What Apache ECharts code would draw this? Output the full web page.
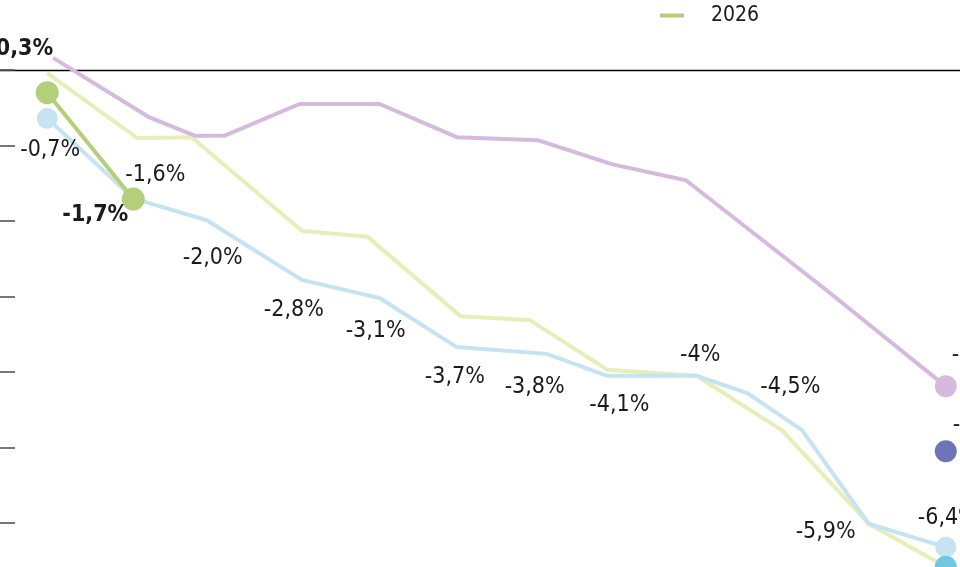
<!DOCTYPE html>
<html>
<head>
<meta charset="utf-8">
<script src="https://cdn.jsdelivr.net/npm/echarts@6/dist/echarts.min.js"></script>
<style>
html,body{margin:0;padding:0;background:#fff;}
#chart{width:960px;height:567px;}
</style>
</head>
<body>
<div id="chart"></div>
<script>
// ---- data ----
const purpleX = [0.08, 1.35, 1.97, 2.37, 3.37, 4.44, 5.47, 6.55, 7.55, 8.53, 10.4, 12];
const purpleY = [0.16, -0.62, -0.87, -0.87, -0.45, -0.45, -0.89, -0.93, -1.25, -1.46, -2.91, -4.19];
const purpleLabels = ['', '', '', '', '', '', '', '', '', '', '', '-4,2%'];

const blueX = [0, 1.15, 2.13, 3.4, 4.44, 5.47, 6.67, 7.48, 8.68, 9.35, 10.08, 10.97, 12];
const blueY = [-0.64, -1.70, -1.99, -2.78, -3.02, -3.67, -3.76, -4.05, -4.05, -4.28, -4.77, -6.01, -6.32];
const blueLabels = ['-0,7%', '-1,6%', '-2,0%', '-2,8%', '-3,1%', '-3,7%', '-3,8%', '-4,1%', '-4%', '-4,5%', '', '-5,9%', '-6,4%'];

const paleX = [0, 1.2, 1.93, 3.4, 4.28, 5.52, 6.44, 7.48, 8.67, 9.81, 10.97, 12];
const paleY = [-0.04, -0.90, -0.89, -2.13, -2.21, -3.26, -3.31, -3.97, -4.05, -4.77, -6.01, -6.58];

const green2026X = [0, 1.15];
const green2026Y = [-0.30, -1.71];
const green2026Labels = ['-0,3%', '-1,7%'];

const darkBlueDot = [12, -5.05];
const darkBlueLabel = '-5,1%';
const cyanDot = [12, -6.58];

const yTicks = [-6, -5, -4, -3, -2, -1, 0];

// ---- layout / style ----
const FONT = '"DejaVu Sans Condensed", "Liberation Sans Narrow", sans-serif';
const blueOffsets = [[3,32],[22,-23],[6,38],[-8,30],[-4,33],[-2,30],[-12,33],[12,29],[3,-21],[43,-6],[0,0],[-43,8],[2,-29]];
const greenOffsets = [[-27,-44],[-38,16]];

function lbl(text, off, bold) {
  return {
    show: text !== '',
    position: 'inside',
    offset: off,
    formatter: text,
    color: '#1a1a1a',
    fontFamily: FONT,
    fontSize: 23,
    fontWeight: bold ? 'bold' : 'normal'
  };
}

const purpleData = purpleX.map((x, i) => ({
  value: [x, purpleY[i]],
  symbolSize: i === purpleX.length - 1 ? 22 : 1,
  label: lbl(purpleLabels[i], [36, -31], false)
}));
const blueData = blueX.map((x, i) => ({
  value: [x, blueY[i]],
  symbolSize: (i === 0 || i === blueX.length - 1) ? 21 : 1,
  label: lbl(blueLabels[i], blueOffsets[i], false)
}));
const paleData = paleX.map((x, i) => [x, paleY[i]]);
const greenData = green2026X.map((x, i) => ({
  value: [x, green2026Y[i]],
  symbolSize: 23,
  label: lbl(green2026Labels[i], greenOffsets[i], true)
}));

const chart = echarts.init(document.getElementById('chart'));
chart.setOption({
  animation: false,
  backgroundColor: '#fff',
  grid: { left: 0, top: 70, width: 960, height: 453, containLabel: false },
  legend: {
    data: ['2026'],
    left: 655, top: 0,
    icon: 'rect', itemWidth: 24, itemHeight: 4,
    textStyle: { fontFamily: FONT, fontSize: 21, color: '#1a1a1a', padding: [0, 0, 0, 22] }
  },
  xAxis: {
    type: 'value', min: -0.63, max: 12.19,
    axisLine: { onZero: true, lineStyle: { color: '#000', width: 1.3 } },
    axisTick: { show: false }, axisLabel: { show: false }, splitLine: { show: false }
  },
  yAxis: {
    type: 'value', min: yTicks[0], max: yTicks[yTicks.length - 1], interval: 1,
    axisLine: { show: false, onZero: false },
    axisTick: { show: true, inside: true, length: 15, lineStyle: { color: '#555', width: 1.6 } },
    axisLabel: { show: false }, splitLine: { show: false }
  },
  series: [
    { name: '2025', type: 'line', data: paleData, clip: false, showSymbol: false, z: 2,
      lineStyle: { color: '#e7efb8', width: 4 }, itemStyle: { color: '#e7efb8' } },
    { name: '2022', type: 'line', data: purpleData, clip: false, z: 3, symbol: 'circle',
      lineStyle: { color: '#d5badd', width: 4 }, itemStyle: { color: '#d5badd' } },
    { name: '2024', type: 'line', data: blueData, clip: false, z: 4, symbol: 'circle',
      lineStyle: { color: '#c5e3f0', width: 4 }, itemStyle: { color: '#c5e3f0' } },
    { name: '2023', type: 'scatter', data: [{ value: darkBlueDot, label: lbl(darkBlueLabel, [37, -26], false) }],
      clip: false, z: 5, symbolSize: 22, itemStyle: { color: '#6e74b9', opacity: 1 } },
    { name: 'cyan', type: 'scatter', data: [cyanDot], clip: false, z: 5, symbolSize: 22,
      itemStyle: { color: '#6fc8e0', opacity: 1 } },
    { name: '2026', type: 'line', data: greenData, clip: false, z: 6, symbol: 'circle',
      lineStyle: { color: '#b3cf7a', width: 4 }, itemStyle: { color: '#b3cf7a' } }
  ]
});
</script>
</body>
</html>
